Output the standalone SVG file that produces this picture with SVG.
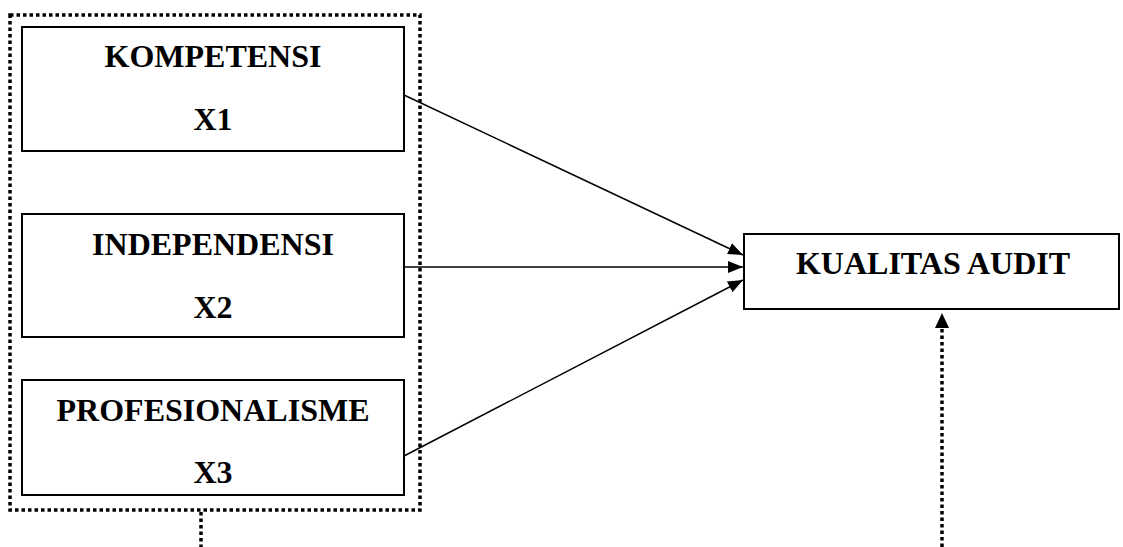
<svg xmlns="http://www.w3.org/2000/svg" width="1123" height="547" viewBox="0 0 1123 547">
<style>
.box{fill:#fff;stroke:#000;stroke-width:2}
.dot{fill:none;stroke:#000;stroke-width:3.5;stroke-dasharray:3.5 3}
.ln{fill:none;stroke:#000;stroke-width:1.5}
text{font-family:"Liberation Serif","Times New Roman",serif;font-weight:bold;font-size:32px;text-anchor:middle;fill:#000}
</style>
<defs>
<marker id="ah" markerWidth="15" markerHeight="12" refX="15" refY="6" orient="auto" markerUnits="userSpaceOnUse">
<path d="M0,0 L15,6 L0,12 Z" fill="#000"/>
</marker>
</defs>
<g id="group-frame">
<rect class="dot" x="10" y="15" width="410" height="495"/>
</g>
<g id="node-x1">
<rect class="box" x="22" y="27" width="382" height="124"/>
<text x="213" y="67">KOMPETENSI</text>
<text x="213" y="130">X1</text>
</g>
<g id="node-x2">
<rect class="box" x="22" y="214" width="382" height="123"/>
<text x="213" y="255">INDEPENDENSI</text>
<text x="213" y="318">X2</text>
</g>
<g id="node-x3">
<rect class="box" x="22" y="380" width="382" height="115"/>
<text x="213" y="421">PROFESIONALISME</text>
<text x="213" y="483">X3</text>
</g>
<g id="node-y">
<rect class="box" x="744" y="234" width="375" height="75"/>
<text x="933" y="274">KUALITAS AUDIT</text>
</g>
<g id="connectors">
<line class="ln" x1="404" y1="95" x2="743" y2="255" marker-end="url(#ah)"/>
<line class="ln" x1="404" y1="267" x2="743" y2="267" marker-end="url(#ah)"/>
<line class="ln" x1="404" y1="456" x2="743" y2="280" marker-end="url(#ah)"/>
<line class="dot" x1="201" y1="512" x2="201" y2="547"/>
<line class="dot" x1="942" y1="547" x2="942" y2="327"/>
<path d="M935,328 L942,313 L949,328 Z" fill="#000"/>
</g>
</svg>
